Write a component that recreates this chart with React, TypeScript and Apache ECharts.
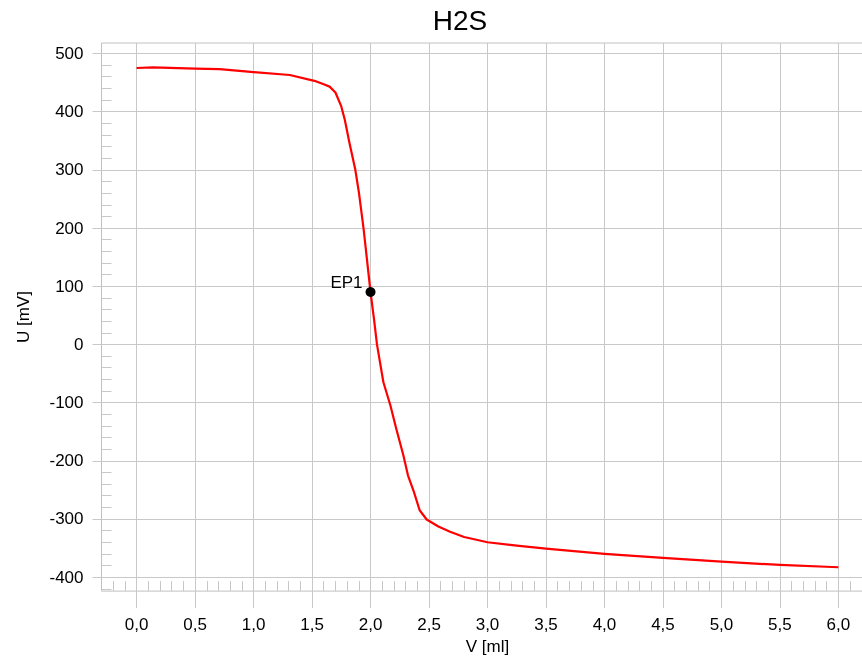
import React, { useEffect, useRef } from "react";
import * as echarts from "echarts";

const volume = [0, 0.14, 0.5, 0.71, 1.0, 1.31, 1.52, 1.6, 1.65, 1.7, 1.75, 1.78, 1.82, 1.87, 1.9, 1.94, 2.0, 2.03, 2.055, 2.11, 2.17, 2.22, 2.28, 2.32, 2.37, 2.42, 2.48, 2.58, 2.68, 2.8, 3.0, 3.25, 3.5, 4.0, 4.5, 5.0, 5.5, 6.0];
const potential = [475, 476, 474, 473, 468, 463, 453, 447, 443, 433, 409, 386, 346, 300, 262, 200, 90, 43, 0, -65, -105, -145, -190, -225, -253, -285, -301, -313, -322, -331, -340, -346, -351, -360, -367, -373.5, -379, -383];
const endpointName = "EP1";
const endpoint = [2.0, 90];
const xTicks = [0, 0.5, 1.0, 1.5, 2.0, 2.5, 3.0, 3.5, 4.0, 4.5, 5.0, 5.5, 6.0];
const yTicks = [-400, -300, -200, -100, 0, 100, 200, 300, 400, 500];
const xMinorTicks: number[] = [];
for (let i = -2; i <= 62; i++) xMinorTicks.push(i / 10);
const yMinorTicks: number[] = [];
for (let v = -420; v <= 500; v += 20) yMinorTicks.push(v);

const FONT = "Liberation Sans, Arial, sans-serif";
const GRID = "#c8c8c8";

export default function App() {
  const ref = useRef<HTMLDivElement>(null);
  useEffect(() => {
    if (!ref.current) return;
    const chart = echarts.init(ref.current, null, { renderer: "svg" });
    const xMin = -0.3, xMax = 6.3, yMin = -424, yMax = 518;
    chart.setOption({
      animation: false,
      title: {
        text: "H2S",
        left: 460,
        top: 6,
        padding: 0,
        textAlign: "center",
        textStyle: { fontFamily: FONT, fontSize: 28, fontWeight: "normal", color: "#000" },
      },
      grid: {
        left: 101.5,
        right: 26.5,
        top: 43,
        bottom: 67,
        show: true,
        borderColor: "#c0c0c0",
        borderWidth: 1,
      },
      xAxis: [
        {
          type: "value",
          min: xMin,
          max: xMax,
          position: "bottom",
          name: "V [ml]",
          nameLocation: "middle",
          nameGap: 44,
          nameTextStyle: { fontFamily: FONT, fontSize: 17, color: "#000" },
          axisLine: { show: false, onZero: false },
          axisTick: { show: true, customValues: xTicks, length: 17, inside: false, lineStyle: { color: GRID } },
          axisLabel: {
            customValues: xTicks,
            margin: 25,
            fontFamily: FONT,
            fontSize: 17,
            color: "#000",
            formatter: (v: number) => v.toFixed(1).replace(".", ","),
          },
          splitLine: { show: true, lineStyle: { color: GRID, width: 1 } },
        },
        {
          type: "value",
          min: xMin,
          max: xMax,
          position: "bottom",
          axisLine: { show: false, onZero: false },
          axisTick: { show: true, customValues: xMinorTicks, length: 10, inside: true, lineStyle: { color: GRID } },
          axisLabel: { show: false },
          splitLine: { show: false },
        },
      ],
      yAxis: [
        {
          type: "value",
          min: yMin,
          max: yMax,
          position: "left",
          name: "U [mV]",
          nameLocation: "middle",
          nameGap: 70,
          nameTextStyle: { fontFamily: FONT, fontSize: 17, color: "#000" },
          axisLine: { show: false, onZero: false },
          axisTick: { show: true, customValues: yTicks, length: 9, inside: false, lineStyle: { color: GRID } },
          axisLabel: {
            customValues: yTicks,
            margin: 18,
            fontFamily: FONT,
            fontSize: 17,
            color: "#000",
          },
          splitLine: { show: true, lineStyle: { color: GRID, width: 1 } },
        },
        {
          type: "value",
          min: yMin,
          max: yMax,
          position: "left",
          axisLine: { show: false, onZero: false },
          axisTick: { show: true, customValues: yMinorTicks, length: 10, inside: true, lineStyle: { color: GRID } },
          axisLabel: { show: false },
          splitLine: { show: false },
        },
      ],
      series: [
        {
          type: "line",
          xAxisIndex: 0,
          yAxisIndex: 0,
          data: volume.map((v, i) => [v, potential[i]]),
          showSymbol: false,
          symbol: "none",
          lineStyle: { color: "#ff0000", width: 2.2, join: "round" },
          z: 3,
        },
        {
          type: "scatter",
          xAxisIndex: 0,
          yAxisIndex: 0,
          data: [{ value: endpoint, name: endpointName }],
          symbol: "circle",
          symbolSize: 10,
          itemStyle: { color: "#000", opacity: 1 },
          label: {
            show: true,
            position: "left",
            distance: 3,
            offset: [0, -10],
            formatter: endpointName,
            fontFamily: FONT,
            fontSize: 17,
            color: "#000",
          },
          z: 4,
        },
      ],
    });
    return () => chart.dispose();
  }, []);
  return (
    <div style={{ position: "fixed", left: 0, top: 0, width: 862, height: 660, overflow: "hidden" }}>
      <div ref={ref} style={{ width: 900, height: 660 }} />
    </div>
  );
}
